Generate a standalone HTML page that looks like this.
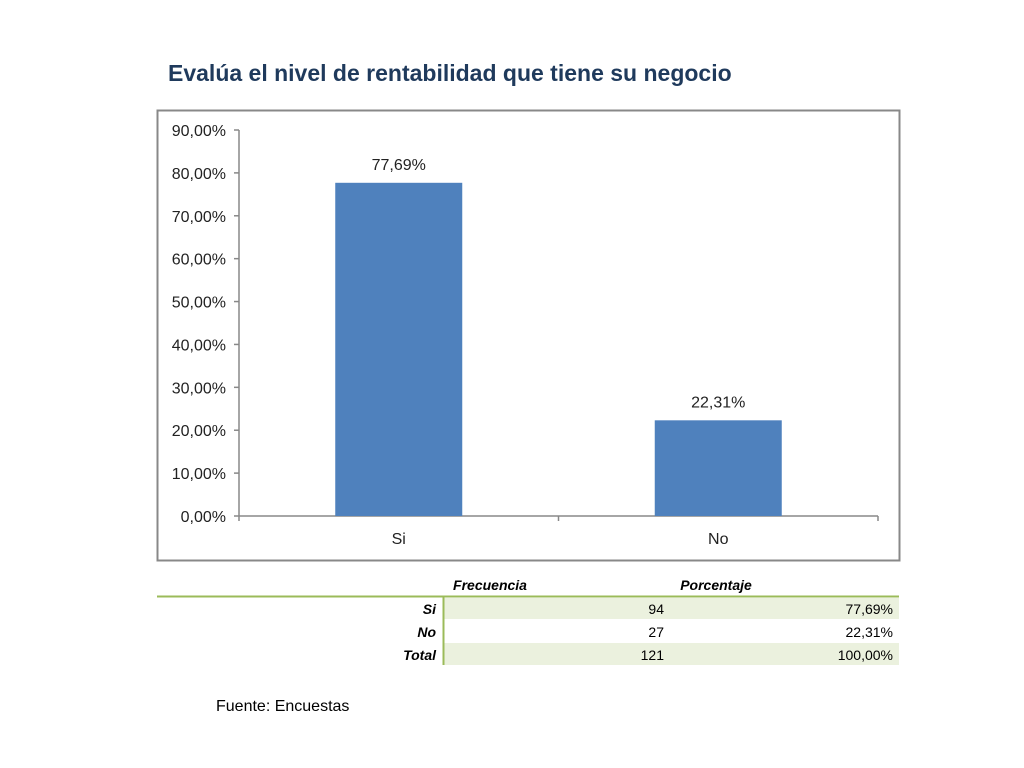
<!DOCTYPE html>
<html><head><meta charset="utf-8"><style>
body{margin:0;width:1024px;height:768px;background:#fff;font-family:"Liberation Sans",sans-serif;position:relative;overflow:hidden}
.t{position:absolute;white-space:nowrap}
</style></head><body>
<div class="t" style="left:168px;top:60px;font-size:23px;font-weight:bold;color:#1f3a5c">Evalúa el nivel de rentabilidad que tiene su negocio</div>
<svg id="c" width="1024" height="768" style="position:absolute;left:0;top:0">
<rect x="157.5" y="110.5" width="742" height="450" fill="none" stroke="#888" stroke-width="2"/>
</svg>
<svg width="1024" height="768" style="position:absolute;left:0;top:0;font-family:'Liberation Sans',sans-serif;font-size:14px;font-style:italic">
<rect x="444" y="598" width="455" height="21" fill="#ebf1de"/>
<rect x="444" y="643" width="455" height="22" fill="#ebf1de"/>
<line x1="157" y1="596.5" x2="899" y2="596.5" stroke="#9bbb59" stroke-width="2"/>
<line x1="443.5" y1="596" x2="443.5" y2="665" stroke="#9bbb59" stroke-width="2"/>
<text x="490" y="590" text-anchor="middle" font-weight="bold">Frecuencia</text>
<text x="716" y="590" text-anchor="middle" font-weight="bold">Porcentaje</text>
<g font-style="normal">
<text x="436" y="614" text-anchor="end" font-weight="bold" font-style="italic">Si</text><text x="664" y="614" text-anchor="end">94</text><text x="893" y="614" text-anchor="end">77,69%</text>
<text x="436" y="637" text-anchor="end" font-weight="bold" font-style="italic">No</text><text x="664" y="637" text-anchor="end">27</text><text x="893" y="637" text-anchor="end">22,31%</text>
<text x="436" y="660" text-anchor="end" font-weight="bold" font-style="italic">Total</text><text x="664" y="660" text-anchor="end">121</text><text x="893" y="660" text-anchor="end">100,00%</text>
</g>
</svg>
<div class="t" style="left:216px;top:698px;font-size:16px;color:#000">Fuente: Encuestas</div>
<script>
const categories=["Si","No"];
const values=[77.69,22.31];
const valueLabels=["77,69%","22,31%"];
const ticks=[0,10,20,30,40,50,60,70,80,90];
const tickLabels=["0,00%","10,00%","20,00%","30,00%","40,00%","50,00%","60,00%","70,00%","80,00%","90,00%"];
const svg=document.getElementById('c');const NS='http://www.w3.org/2000/svg';
const x0=239,x1=878,y0=516,yTop=130,vmax=90;
const y=v=>y0-(y0-yTop)*v/vmax;
const band=(x1-x0)/categories.length;
function mk(t,a,txt){const e=document.createElementNS(NS,t);for(const k in a)e.setAttribute(k,a[k]);if(txt!==undefined)e.textContent=txt;svg.appendChild(e);return e;}
let e=mk('line',{x1:x0,y1:yTop,x2:x0,y2:y0,stroke:'#888','stroke-width':1.5});


ticks.forEach((t,i)=>{
 const l=mk('line',{x1:x0-5,y1:y(t),x2:x0,y2:y(t),stroke:'#888','stroke-width':1.5});
 
 
 const tx=mk('text',{x:226,y:y(t)+6,'text-anchor':'end','font-size':'16','fill':'#222','font-family':'Liberation Sans, sans-serif'},tickLabels[i]);
 
 
});
e=mk('line',{x1:x0,y1:y0,x2:x1,y2:y0,stroke:'#888','stroke-width':1.5});


for(let i=0;i<=categories.length;i++){const l=mk('line',{x1:x0+band*i,y1:y0,x2:x0+band*i,y2:y0+5,stroke:'#888','stroke-width':1.5});
 
 }
categories.forEach((c,i)=>{
 const cx=x0+band*(i+0.5),w=127;
 const r=mk('rect',{x:cx-w/2,y:y(values[i]),width:w,height:y0-y(values[i]),fill:'#4f81bd'});
 
 
 const vl=mk('text',{x:cx,y:y(values[i])-13,'text-anchor':'middle','font-size':'16','fill':'#222','font-family':'Liberation Sans, sans-serif'},valueLabels[i]);
 
 
 const cl=mk('text',{x:cx,y:544,'text-anchor':'middle','font-size':'16','fill':'#222','font-family':'Liberation Sans, sans-serif'},c);
 
 
});
</script>
</body></html>
